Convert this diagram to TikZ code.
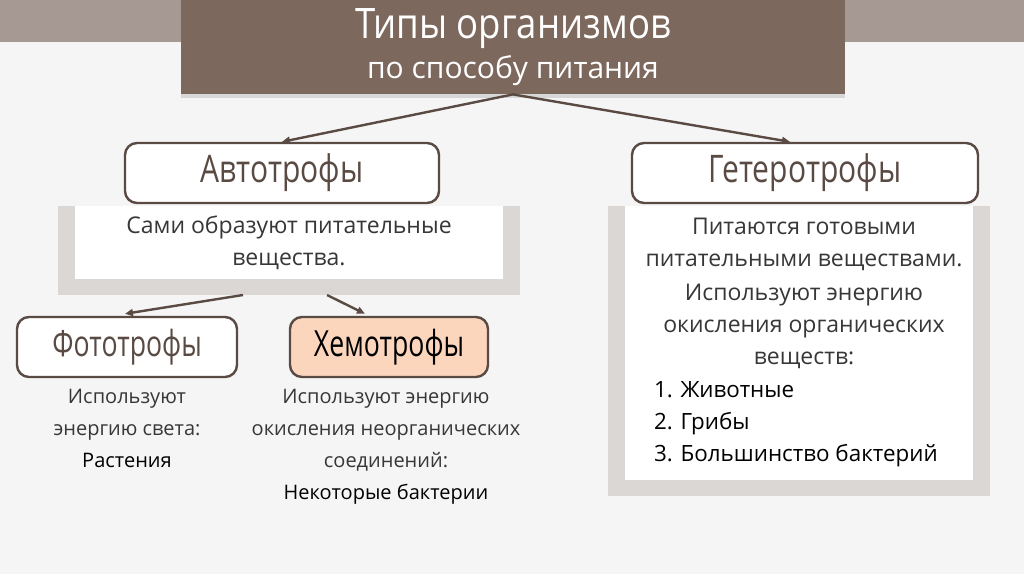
\documentclass[tikz,border=0pt]{standalone}
\usepackage{fontspec}
\setmainfont{Open Sans}
\newfontfamily\narrowfont{Open Sans}[FakeStretch=0.87]
\newfontfamily\boxfont{Open Sans}[FakeStretch=0.79]
\newfontfamily\subboxfont{Open Sans}[FakeStretch=0.74]
\usepackage{xcolor}
\definecolor{pagebg}{RGB}{245,245,245}
\definecolor{bandbrown}{RGB}{166,152,146}
\definecolor{titlebrown}{RGB}{125,104,93}
\definecolor{edgebrown}{RGB}{90,74,68}
\definecolor{panelgray}{RGB}{218,215,213}
\definecolor{peach}{RGB}{251,214,189}
\definecolor{bodytext}{RGB}{55,55,55}
\usetikzlibrary{positioning,arrows.meta,shadows,calc}
\tikzset{
  typebox/.style={draw=edgebrown,line width=1.2pt,rounded corners=6pt,fill=white,
    text=edgebrown,minimum height=30pt,font=\boxfont\fontsize{19}{22}\selectfont},
  subbox/.style={typebox,font=\subboxfont\fontsize{18}{21}\selectfont},
  bodytxt/.style={text=bodytext,align=center,font=\fontsize{11.5}{16}\selectfont},
  smalltxt/.style={bodytxt,font=\fontsize{10}{16}\selectfont},
  listtxt/.style={text=black,align=left,font=\fontsize{11.2}{16}\selectfont},
  link/.style={draw=edgebrown,line width=1.2pt,-{Triangle[length=4pt,width=3.5pt]}},
}
\newcommand{\shadepanel}[5]{%
  \fill[panelgray] (#2-17,#3) rectangle (#4+17,#5+16);
  \node[fill=white,inner sep=0pt,minimum width={(#4-#2)*0.5pt},minimum height={(#5-#3)*0.5pt}]
    (#1) at ({(#2+#4)/2},{(#3+#5)/2}) {};}

\begin{document}
\begin{tikzpicture}[x=0.5pt,y=-0.5pt]
  \useasboundingbox (0,0) rectangle (1024,574);
  \fill[pagebg] (0,0) rectangle (1024,574);
  \fill[bandbrown] (0,0) rectangle (1024,42);

  \node[fill=titlebrown,text=white,align=center,minimum width=332pt,minimum height=47pt,
    drop shadow={opacity=0.25,shadow xshift=0pt,shadow yshift=-2pt}] (title) at (513,47)
    {\narrowfont\fontsize{21}{26}\selectfont Типы организмов\\[2.5pt]\fontsize{15}{18}\selectfont по способу питания};

  % панели с пояснениями
  \shadepanel{autopanel}{75}{206}{503}{279}
  \shadepanel{heteropanel}{625}{206}{973}{480}

  \node[typebox,minimum width=157pt] (auto) at (282,173) {Автотрофы};
  \node[typebox,minimum width=173pt] (hetero) at (805,173) {Гетеротрофы};
  \node[subbox,minimum width=110pt] (photo) at (127,347) {Фототрофы};
  \node[subbox,minimum width=99pt,fill=peach,text=black] (chemo) at (389,347) {Хемотрофы};

  \node[bodytxt] (autotxt) at (289,243) {Сами образуют питательные\\вещества.};
  \node[bodytxt] (heterotxt) at (804,293) {Питаются готовыми\\питательными веществами.\\[1pt]Используют энергию\\окисления органических\\веществ:};
  \node[listtxt,anchor=north west] (heterolist) at (647,374) {1. Животные\\2. Грибы\\3. Большинство бактерий};
  \node[smalltxt,anchor=north] (phototxt) at (127,382) {Используют\\энергию света:\\\textcolor{black}{Растения}};
  \node[smalltxt,anchor=north] (chemotxt) at (386,382) {Используют энергию\\окисления неорганических\\соединений:\\\textcolor{black}{Некоторые бактерии}};

  \coordinate (split1) at (243,295);
  \coordinate (split2) at (327,295);
  \draw[link] (title.south) -- (auto.north);
  \draw[link] (title.south) -- ($(hetero.north)+(-15,0)$);
  \draw[link] (split1) -- ($(photo.north)+(-2,-2)$);
  \draw[link] (split2) -- ($(chemo.north)+(-24,-2)$);
\end{tikzpicture}
\end{document}
